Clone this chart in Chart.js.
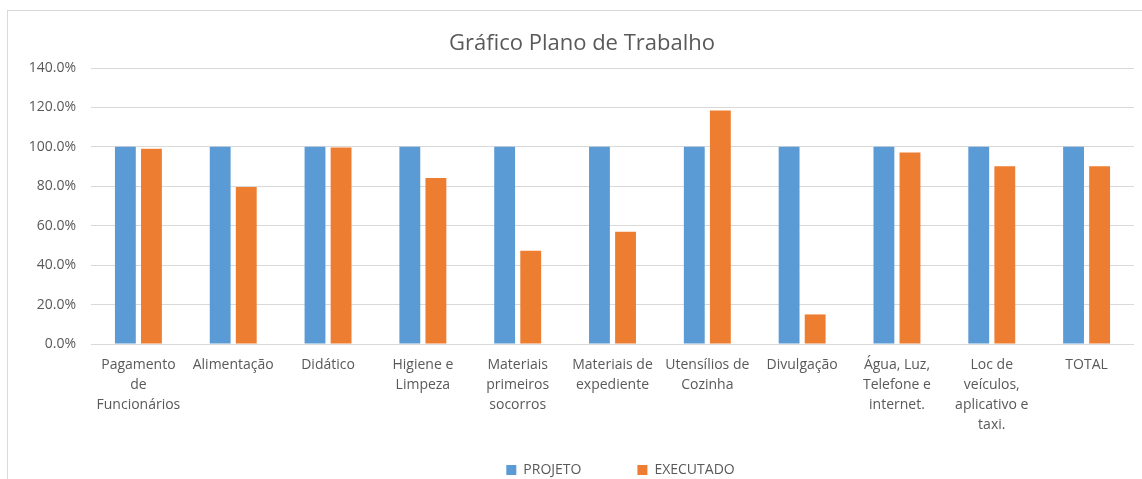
<!DOCTYPE html>
<html>
<head>
<meta charset="utf-8">
<script src="https://cdn.jsdelivr.net/npm/chart.js@4/dist/chart.umd.min.js"></script>
<style>
  html, body { margin: 0; padding: 0; background: #fff; overflow: hidden; }
  #frame { position: absolute; left: 7px; top: 10px; width: 1300px; height: 700px; border: 1px solid #d9d9d9; box-sizing: border-box; }
  #wrap { position: absolute; left: 0; top: 0; width: 1142px; height: 479px; }
</style>
</head>
<body>
<div id="frame"></div>
<div id="wrap"><canvas id="c" width="1142" height="479"></canvas></div>
<script>
const categories = [
  ["Pagamento", "de", "Funcionários"],
  "Alimentação",
  "Didático",
  ["Higiene e", "Limpeza"],
  ["Materiais", "primeiros", "socorros"],
  ["Materiais de", "expediente"],
  ["Utensílios de", "Cozinha"],
  "Divulgação",
  ["Água, Luz,", "Telefone e", "internet."],
  ["Loc de", "veículos,", "aplicativo e", "taxi."],
  "TOTAL"
];
const projeto = [100, 100, 100, 100, 100, 100, 100, 100, 100, 100, 100];
const executado = [99.1, 79.6, 99.7, 84.2, 47.3, 56.9, 118.5, 15.0, 97.1, 90.2, 90.2];
const yTicks = [0, 20, 40, 60, 80, 100, 120, 140];

const FONT = "'Open Sans', 'Noto Sans', sans-serif";
const TXT = '#595959';

// layout tweak: let the category labels use the space down to the canvas bottom
// and nudge the legend to the reference's horizontal position
const layoutTweak = {
  id: 'layoutTweak',
  afterLayout(chart) {
    chart.scales.x.bottom = chart.height;
    if (chart.legend) {
      chart.legend.left += 8;
      chart.legend.right += 8;
    }
  }
};

new Chart(document.getElementById('c'), {
  type: 'bar',
  data: {
    labels: categories,
    datasets: [
      { label: 'PROJETO', data: projeto, backgroundColor: '#5B9BD5', categoryPercentage: 0.55, barPercentage: 0.8 },
      { label: 'EXECUTADO', data: executado, backgroundColor: '#ED7D31', categoryPercentage: 0.55, barPercentage: 0.8 }
    ]
  },
  plugins: [layoutTweak],
  options: {
    responsive: false,
    animation: false,
    events: [],
    layout: { padding: { left: 30, right: 8, top: 0, bottom: -8 } },
    plugins: {
      title: {
        display: true,
        text: 'Gráfico Plano de Trabalho',
        color: TXT,
        font: { family: FONT, size: 22, weight: 'normal', lineHeight: 1.2 },
        padding: { top: 31, bottom: 10.6 }
      },
      legend: {
        position: 'bottom',
        fullSize: false,
        labels: {
          color: TXT,
          font: { family: FONT, size: 14 },
          boxWidth: 10,
          boxHeight: 10,
          padding: 56
        }
      },
      tooltip: { enabled: false }
    },
    scales: {
      x: {
        grid: { display: false, drawTicks: false },
        border: { display: false },
        ticks: {
          color: TXT,
          font: { family: FONT, size: 14, lineHeight: 1.43 },
          padding: 11,
          maxRotation: 0,
          autoSkip: false
        },
        afterFit: (s) => { s.height = 63; }
      },
      y: {
        min: yTicks[0],
        max: yTicks[yTicks.length - 1],
        afterBuildTicks: (s) => { s.ticks = yTicks.map(v => ({ value: v })); },
        grid: { color: '#d9d9d9', lineWidth: 1, drawTicks: false },
        border: { display: false },
        ticks: {
          color: TXT,
          font: { family: FONT, size: 14 },
          padding: 15,
          callback: (v) => Number(v).toFixed(1) + '%'
        },
        afterFit: (s) => { s.width = 61; }
      }
    }
  }
});
</script>
</body>
</html>
